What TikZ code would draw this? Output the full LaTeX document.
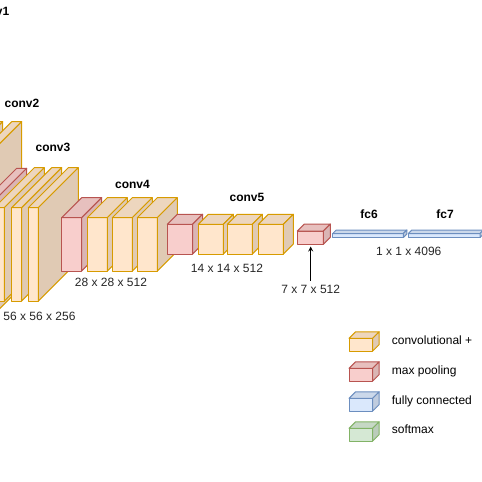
\documentclass[tikz,border=0pt]{standalone}
\usepackage{fontspec}
\setmainfont{Liberation Sans}
\definecolor{convfill}{HTML}{FFE6CC}
\definecolor{convline}{HTML}{D79B00}
\definecolor{poolfill}{HTML}{F8CECC}
\definecolor{poolline}{HTML}{B85450}
\definecolor{fcfill}{HTML}{DAE8FC}
\definecolor{fcline}{HTML}{6C8EBF}
\definecolor{smfill}{HTML}{D5E8D4}
\definecolor{smline}{HTML}{82B366}
% x, y (front top left), width, height, depth, kind
\newcommand{\cuboid}[6]{%
  \filldraw[fill=#6fill, draw=#6line] (#1,#2) rectangle ++(#3,#4);
  \filldraw[fill=#6fill!93!black, draw=#6line]
    (#1,#2) -- ++(#5,-#5) -- ++(#3,0) -- ++(-#5,#5) -- cycle;
  \filldraw[fill=#6fill!88!black, draw=#6line]
    (#1+#3,#2) -- ++(#5,-#5) -- ++(0,#4) -- ++(-#5,#5) -- cycle;
}

\begin{document}
\begin{tikzpicture}[x=1pt,y=-1pt,line width=1pt,line join=round,
  dims/.style={font=\fontsize{12}{14}\selectfont, text=black!85},
  ttl/.style={font=\bfseries\fontsize{12}{14}\selectfont},
  lgd/.style={font=\fontsize{12}{14}\selectfont, anchor=west}]
  \useasboundingbox (0,0) rectangle (482,482);
  \clip (0,0) rectangle (482,482);

  % conv2 and pool2
  \cuboid{-67.3}{181.7}{10}{165}{60}{conv}
  \cuboid{-48.3}{181.7}{10}{165}{60}{conv}
  \cuboid{-23.3}{208.3}{10}{93}{40}{pool}
  % conv3
  \foreach \x in {-5.7,11.7,28.3}{
    \cuboid{\x}{207.7}{10}{93.3}{40}{conv}
  }
  % conv4
  \cuboid{61.7}{217.7}{20}{53.3}{20}{pool}
  \foreach \x in {87.3,112.3,137.3}{
    \cuboid{\x}{217.7}{20}{53.3}{20}{conv}
  }
  % conv5
  \cuboid{167.3}{224.3}{25.3}{29.7}{10}{pool}
  \foreach \x in {198.3,227.3,258.3}{
    \cuboid{\x}{224.3}{25}{29.7}{10}{conv}
  }
  \cuboid{297.3}{231}{26}{13.3}{7}{pool}
  % fc
  \cuboid{332.7}{233.5}{70.7}{4}{3.5}{fc}
  \cuboid{408.3}{233.5}{71.7}{4}{3.5}{fc}

  \node[ttl] (t1) at (-8,11) {conv1};
  \node[ttl] (t2) at (22,103) {conv2};
  \node[ttl] (t3) at (53,147) {conv3};
  \node[ttl] (t4) at (132.5,184) {conv4};
  \node[ttl] (t5) at (247,197) {conv5};
  \node[ttl] (t6) at (369,214) {fc6};
  \node[ttl] (t7) at (445,214) {fc7};

  \node[dims] (d3) at (39.5,316) {56 x 56 x 256};
  \node[dims] (d4) at (111,282) {28 x 28 x 512};
  \node[dims] (d5) at (227,268) {14 x 14 x 512};
  \node[dims] (d7) at (310.7,289) {7 x 7 x 512};
  \node[dims] (d8) at (408.7,251) {1 x 1 x 4096};

  \coordinate (p5) at (310.7,246.5);
  \draw[-stealth, line width=1.2pt] (d7.north) -- (p5);

  % legend
  \cuboid{349}{338.3}{23.7}{12.7}{6.5}{conv}
  \cuboid{349}{368.3}{23.7}{12.7}{6.5}{pool}
  \cuboid{349}{398.3}{23.7}{12.7}{6.5}{fc}
  \cuboid{349}{428.3}{23.7}{12.7}{6.5}{sm}
  \node[lgd] (l1) at (388,340.7) {convolutional +};
  \node[lgd] (l2) at (388,371) {max pooling};
  \node[lgd] (l3) at (388,401) {fully connected};
  \node[lgd] (l4) at (388,429) {softmax};
\end{tikzpicture}
\end{document}
